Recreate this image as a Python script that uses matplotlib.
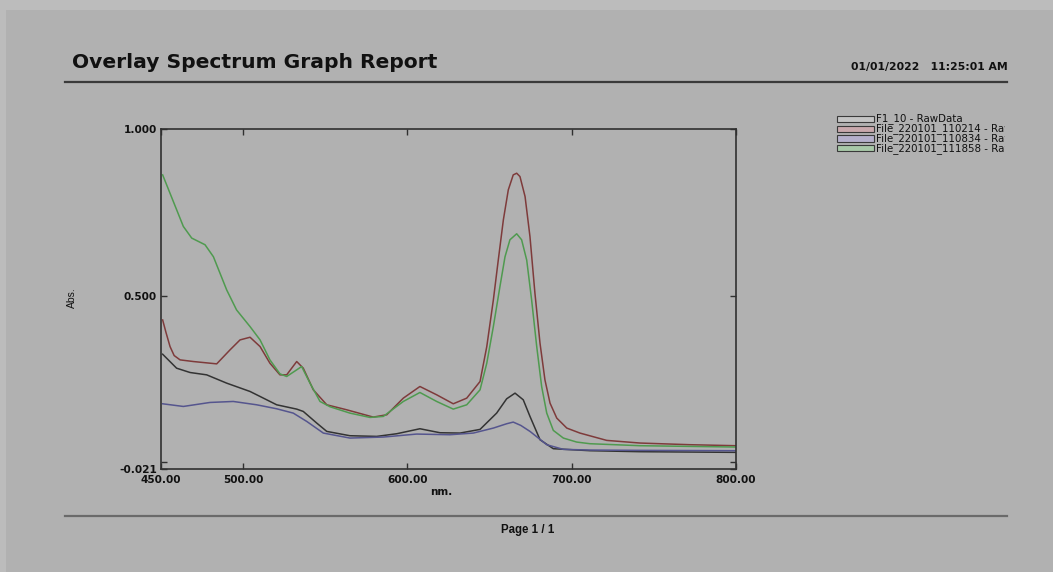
import matplotlib
matplotlib.use("Agg")
import matplotlib.pyplot as plt
from matplotlib.patches import Rectangle
from matplotlib.lines import Line2D

plt.rcParams['font.family'] = ['DejaVu Sans']

# ---- data ----
black_x = [451, 459.5, 467.7, 477.8, 490, 504.2, 510.3, 520.4, 532.6, 536.6, 544.8, 550.9, 565,
           581.3, 593.5, 607.6, 619.8, 632, 644.2, 654.3, 660.4, 665.5, 670.5, 674.6, 680.7,
           688.8, 711.1, 741.6, 800]
black_y = [0.324, 0.282, 0.269, 0.262, 0.237, 0.212, 0.197, 0.172, 0.159, 0.152, 0.117, 0.092, 0.079,
           0.077, 0.085, 0.100, 0.088, 0.087, 0.098, 0.147, 0.190, 0.207, 0.187, 0.137, 0.067,
           0.040, 0.034, 0.031, 0.029]

red_x = [451, 453, 455.5, 458, 461.6, 469.7, 483.9, 492, 498.1, 504.2, 510.3, 516.3, 522.4, 526.5,
         532.6, 536.6, 542.7, 550.9, 563, 579.2, 587.4, 597.5, 607.6, 617.8, 627.9, 636.1, 644.2,
         648.3, 652.3, 655.3, 658.4, 661.4, 664.4, 666.5, 668.5, 671.6, 674.6, 677.6, 680.7, 683.7,
         686.8, 690.9, 697, 705, 721.3, 741.6, 772, 800]
red_y = [0.427, 0.39, 0.347, 0.320, 0.307, 0.302, 0.295, 0.337, 0.367, 0.375, 0.347, 0.297, 0.262,
         0.262, 0.302, 0.282, 0.217, 0.172, 0.157, 0.135, 0.142, 0.192, 0.227, 0.202, 0.175, 0.192,
         0.242, 0.347, 0.487, 0.607, 0.728, 0.818, 0.863, 0.868, 0.858, 0.798, 0.677, 0.508, 0.357,
         0.247, 0.177, 0.132, 0.102, 0.087, 0.065, 0.057, 0.052, 0.049]

blue_x = [451, 463.6, 479.8, 494, 508.2, 520.4, 530.5, 538.7, 548.8, 565, 585.3, 605.6, 625.9,
          640.1, 652.3, 660.4, 664.4, 669, 674.6, 684.8, 694.9, 711.1, 741.6, 800]
blue_y = [0.175, 0.167, 0.179, 0.182, 0.172, 0.160, 0.147, 0.122, 0.087, 0.072, 0.075, 0.084, 0.082,
          0.087, 0.102, 0.115, 0.120, 0.110, 0.092, 0.052, 0.038, 0.036, 0.035, 0.034]

green_x = [451, 463.6, 468.7, 476.8, 481.9, 490, 496, 504.2, 510.3, 516.3, 522.4, 526.5, 532.6,
           535.6, 540.7, 546.8, 552.9, 565, 577.2, 585.3, 597.5, 607.6, 617.8, 627.9, 636.1, 644.2,
           648.3, 652.3, 656.3, 659.4, 662.4, 666.5, 669.5, 672.6, 675.6, 678.7, 681.7, 684.8,
           688.8, 694.9, 703, 711.1, 741.6, 800]
green_y = [0.863, 0.708, 0.673, 0.653, 0.617, 0.517, 0.457, 0.407, 0.367, 0.307, 0.265, 0.257, 0.277,
           0.287, 0.237, 0.182, 0.166, 0.147, 0.134, 0.137, 0.182, 0.209, 0.182, 0.159, 0.172, 0.217,
           0.297, 0.407, 0.527, 0.617, 0.668, 0.686, 0.668, 0.607, 0.487, 0.347, 0.227, 0.147,
           0.095, 0.072, 0.060, 0.055, 0.049, 0.045]

series_names = ["F1_10 - RawData", "File_220101_110214 - RawData",
                "File_220101_110834 - RawData", "File_220101_111858 - RawData"]
x_ticks = [450, 500, 600, 700, 800]
x_tick_labels = ["450.00", "500.00", "600.00", "700.00", "800.00"]
y_ticks = [-0.021, 0.5, 1.0]
y_tick_labels = ["-0.021", "0.500", "1.000"]

# ---- styling ----
BG = '#b1b1b1'
line_colors = ['#333333', '#7e3b3b', '#55558e', '#4f9a4f']
fill_colors = ['#c4c4c4', '#c9a9ad', '#b5b0cc', '#a8c8a8']

W, H = 1053, 572
fig = plt.figure(figsize=(W / 100, H / 100), dpi=100, facecolor=BG)

def fx(px):
    return px / W

def fy(py):
    return 1 - py / H

# light margins at top and left
fig.patches.append(Rectangle((0, fy(10)), 1, 10 / H, transform=fig.transFigure,
                             facecolor='#bcbcbc', edgecolor='none', zorder=0))
fig.patches.append(Rectangle((0, 0), 6 / W, 1, transform=fig.transFigure,
                             facecolor='#bcbcbc', edgecolor='none', zorder=0))

ax = fig.add_axes([fx(161), fy(469), (736 - 161) / W, (469 - 129.3) / H])
ax.set_facecolor(BG)

for xs, ys, c in zip([black_x, red_x, blue_x, green_x], [black_y, red_y, blue_y, green_y], line_colors):
    ax.plot(xs, ys, color=c, lw=1.1, solid_joinstyle='round')

ax.set_xlim(450, 800)
ax.set_ylim(-0.021, 1.0)
ax.set_xticks(x_ticks)
ax.set_xticklabels(x_tick_labels)
ax.set_yticks(y_ticks)
ax.set_yticklabels(y_tick_labels)
ax.set_yticks([0.0], minor=True)
ax.tick_params(which='both', direction='in', length=4.5, width=1.0, color='#303030',
               top=True, right=True, labelsize=7.6, pad=3)
ax.tick_params(axis='x', pad=4)
for lab in ax.get_xticklabels() + ax.get_yticklabels():
    lab.set_fontweight('bold')
    lab.set_color('#111111')
for s in ax.spines.values():
    s.set_color('#303030')
    s.set_linewidth(1.2)

fig.text(fx(441), fy(492), 'nm.', fontsize=7.5, fontweight='bold', ha='center', va='center',
         color='#111111')
fig.text(fx(72), fy(298), 'Abs.', rotation=90, ha='center', va='center', fontsize=7.5,
         family='Liberation Sans', color='#111111')

# header
fig.text(fx(72), fy(63), 'Overlay Spectrum Graph Report', fontsize=14.6, fontweight='bold',
         ha='left', va='center', color='#111111')
fig.text(fx(1008), fy(67), '01/01/2022   11:25:01 AM', fontsize=7.8, fontweight='bold',
         ha='right', va='center', color='#111111')
fig.lines.append(Line2D([fx(65), fx(1007)], [fy(82), fy(82)], transform=fig.transFigure,
                        color='#3a3a3a', lw=1.6))
# footer
fig.lines.append(Line2D([fx(65), fx(1007)], [fy(516), fy(516)], transform=fig.transFigure,
                        color='#6a6a6a', lw=1.6))
fig.text(fx(528), fy(530), 'Page 1 / 1', fontsize=8.3, fontweight='bold',
         family='Liberation Sans', ha='center', va='center', color='#111111')

# legend
clip = Rectangle((fx(820), fy(160)), (1005 - 820) / W, 60 / H, transform=fig.transFigure,
                 facecolor='none', edgecolor='none')
fig.patches.append(clip)
rows = [119, 128.7, 138.5, 148.3]
for name, lc, fc, ry in zip(series_names, line_colors, fill_colors, rows):
    fig.patches.append(Rectangle((fx(836.5), fy(ry + 3)), 37.5 / W, 6 / H,
                                 transform=fig.transFigure, facecolor=fc,
                                 edgecolor='#3a3a3a', lw=0.8))
    t = fig.text(fx(876.5), fy(ry), name, fontsize=7.4, ha='left', va='center', color='#111111')
    t.set_clip_path(clip)

fig.savefig('out.png', dpi=100, facecolor=BG)
